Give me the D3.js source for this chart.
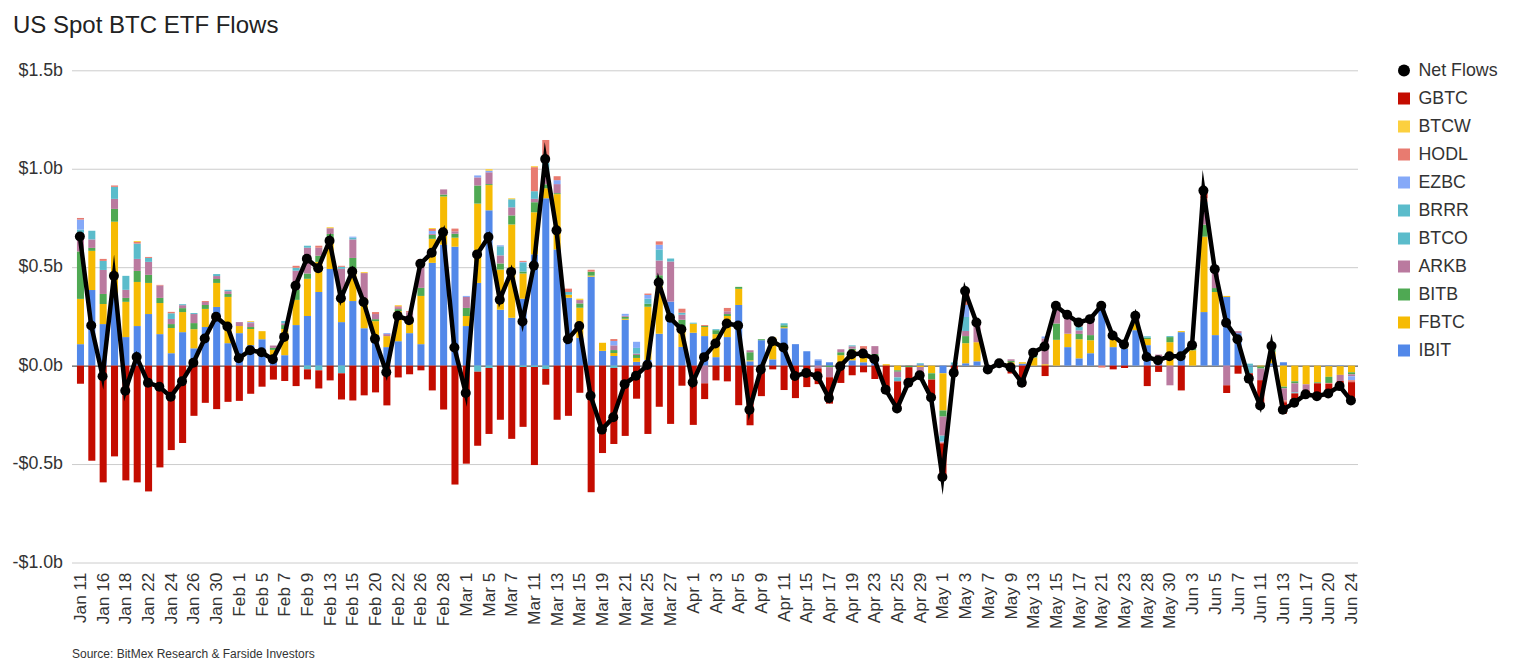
<!DOCTYPE html>
<html>
<head>
<meta charset="utf-8">
<title>US Spot BTC ETF Flows</title>
<script src="https://cdn.jsdelivr.net/npm/d3@7"></script>
<style>
  html, body { margin: 0; padding: 0; background: #fff; }
  svg { display: block; font-family: "Liberation Sans", Arial, sans-serif; }
</style>
</head>
<body>
<svg id="chart" width="1518" height="667"></svg>
<script>
// trading days on the x axis, every second one gets a label
const days = [
  'Jan 11','Jan 12','Jan 16','Jan 17','Jan 18','Jan 19','Jan 22','Jan 23','Jan 24','Jan 25',
  'Jan 26','Jan 29','Jan 30','Jan 31','Feb 1','Feb 2','Feb 5','Feb 6','Feb 7','Feb 8',
  'Feb 9','Feb 12','Feb 13','Feb 14','Feb 15','Feb 16','Feb 20','Feb 21','Feb 22','Feb 23',
  'Feb 26','Feb 27','Feb 28','Feb 29','Mar 1','Mar 4','Mar 5','Mar 6','Mar 7','Mar 8',
  'Mar 11','Mar 12','Mar 13','Mar 14','Mar 15','Mar 18','Mar 19','Mar 20','Mar 21','Mar 22',
  'Mar 25','Mar 26','Mar 27','Mar 28','Apr 1','Apr 2','Apr 3','Apr 4','Apr 5','Apr 8',
  'Apr 9','Apr 10','Apr 11','Apr 12','Apr 15','Apr 16','Apr 17','Apr 18','Apr 19','Apr 22',
  'Apr 23','Apr 24','Apr 25','Apr 26','Apr 29','Apr 30','May 1','May 2','May 3','May 6',
  'May 7','May 8','May 9','May 10','May 13','May 14','May 15','May 16','May 17','May 20',
  'May 21','May 22','May 23','May 24','May 28','May 29','May 30','May 31','Jun 3','Jun 4',
  'Jun 5','Jun 6','Jun 7','Jun 10','Jun 11','Jun 12','Jun 13','Jun 14','Jun 17','Jun 18',
  'Jun 20','Jun 21','Jun 24'
];

// flows in $m
const IBIT = [
  109,384,211,367,145,201,262,160,63,170,
  88,196,298,114,165,104,134,50,53,206,
  252,374,491,221,328,190,155,94,124,165,
  109,522,614,604,201,420,789,284,243,340,
  565,850,590,345,141,452,75,49,233,19,
  29,162,325,95,167,150,43,145,308,22,
  129,32,190,109,73,27,17,0,27,17,
  45,0,0,0,7,0,-39,6,12,22,
  0,0,0,10,0,0,0,94,37,63,
  314,94,88,180,104,19,0,170,0,272,
  155,349,165,-5,0,12,17,0,0,0,
  -3,-3,0
];
const FBTC = [
  230,199,102,364,179,224,158,158,128,102,
  97,92,122,235,36,82,41,30,133,128,
  189,153,158,138,163,151,71,56,153,71,
  245,122,245,46,51,403,128,204,474,128,
  214,51,281,15,153,5,41,15,5,20,
  270,241,0,87,46,46,117,107,82,5,
  0,111,5,0,0,0,0,53,51,25,
  0,7,-24,0,-7,-39,-189,0,102,97,
  0,12,17,7,41,7,131,68,97,66,
  0,39,31,43,31,14,119,5,78,383,
  219,5,0,0,-5,58,-107,-80,-95,-85,
  -54,-44,-34
];
const BITB = [
  241,15,51,65,20,56,41,26,20,20,
  31,20,20,15,0,10,0,10,20,51,
  27,31,20,26,56,0,10,0,10,5,
  41,20,10,20,41,92,5,31,46,10,
  51,20,5,0,22,20,0,15,10,15,
  15,56,0,51,0,5,20,10,10,41,
  5,0,10,0,0,0,-8,15,8,5,
  14,0,-7,-8,0,-32,-31,0,36,0,
  0,0,7,0,10,0,83,0,27,26,
  0,0,0,0,7,8,26,0,10,61,
  20,0,0,0,-10,17,-8,-10,0,-5,
  -31,0,-10
];
const ARKB = [
  94,43,122,51,41,61,66,63,26,15,
  46,15,15,14,20,20,0,12,9,97,
  131,41,29,107,94,129,26,10,10,30,
  140,5,26,12,56,41,60,41,41,0,
  17,60,46,0,17,0,0,24,5,7,
  0,75,204,26,0,-90,0,14,0,10,
  0,0,0,0,0,-14,-51,15,12,5,
  40,0,-29,2,-25,0,-97,0,26,95,
  2,0,8,0,15,131,68,82,18,77,
  0,39,0,30,0,15,-100,0,16,100,
  82,-100,10,0,-59,13,-61,-46,-31,0,
  0,-31,-10
];
const BTCO = [
  0,44,46,61,71,78,20,0,29,5,
  5,0,10,7,0,0,0,0,12,15,
  10,0,0,10,9,0,0,0,0,0,
  0,0,0,0,0,0,0,46,41,46,
  39,51,0,14,0,0,0,0,0,29,
  26,56,15,10,5,0,5,0,0,0,
  0,0,10,0,0,0,0,0,5,0,
  0,0,-20,0,5,0,-29,10,71,0,
  0,0,0,0,0,0,0,14,20,0,
  0,0,0,0,7,0,5,0,0,15,
  0,0,0,10,0,0,0,-5,0,0,
  0,0,0
];
const BRRR = [
  17,0,0,0,0,0,0,0,0,0,
  0,0,0,0,0,0,0,0,0,0,
  -19,-24,0,-39,0,0,0,0,0,0,
  0,0,0,0,0,-31,-12,0,0,-7,
  -7,-17,0,0,0,0,0,-12,0,0,
  0,0,0,0,0,0,0,0,0,0,
  0,0,0,0,0,0,0,0,0,0,
  0,0,0,0,0,0,0,0,0,0,
  0,0,0,0,0,0,0,0,0,0,
  0,0,0,0,0,0,0,0,0,0,
  0,0,0,-34,0,0,0,0,0,0,
  0,0,0
];
const EZBC = [
  51,0,0,0,0,0,0,0,0,0,
  0,0,0,0,0,5,0,0,0,0,
  0,0,0,0,5,0,0,5,0,0,
  0,15,0,0,5,10,8,5,0,3,
  0,0,20,0,0,0,0,22,10,31,
  19,24,0,0,0,0,0,0,0,0,
  0,0,0,0,0,5,0,0,0,30,
  0,0,0,0,0,0,-5,0,61,0,
  0,0,0,0,0,10,7,0,0,0,
  0,0,0,0,0,0,0,0,0,0,
  0,0,0,0,0,0,0,0,0,0,
  0,0,-20
];
const HODL = [
  8,0,10,7,0,8,5,3,7,0,
  0,5,0,0,0,0,0,0,0,10,
  0,10,0,5,0,0,10,0,5,6,
  5,10,0,14,0,0,0,0,0,5,
  122,114,20,17,0,10,0,10,0,0,
  7,17,0,20,0,5,0,17,0,0,
  0,0,0,0,0,0,0,0,0,17,
  0,0,0,0,0,0,-5,0,17,0,
  0,0,0,0,0,0,8,0,10,0,
  -10,0,0,0,0,0,0,0,0,20,
  0,0,0,0,0,0,-10,0,0,0,
  -5,0,-10
];
const BTCW = [
  0,0,0,0,0,5,0,0,0,0,
  0,0,0,0,0,5,0,0,0,0,
  0,0,5,0,0,5,0,0,5,0,
  0,5,0,0,0,0,8,0,5,0,
  5,0,0,0,7,0,0,0,0,0,
  0,0,0,0,0,0,0,0,0,0,
  0,0,0,0,0,0,0,0,0,0,
  0,0,0,0,0,0,0,0,0,0,
  0,0,0,0,0,0,0,0,0,0,
  0,0,0,0,0,0,0,0,0,0,
  0,0,0,0,0,0,0,0,0,0,
  0,0,0
];
const GBTC = [
  -92,-483,-593,-461,-583,-593,-639,-517,-429,-393,
  -255,-189,-221,-184,-179,-143,-107,-71,-78,-104,
  -51,-92,-75,-133,-177,-151,-136,-202,-60,-44,
  -24,-126,-223,-604,-498,-376,-335,-275,-372,-304,
  -498,-80,-275,-255,-138,-643,-444,-386,-357,-168,
  -347,-209,-296,-102,-301,-80,-75,-80,-201,-303,
  -155,-19,-124,-165,-109,-80,-134,-88,-49,-34,
  -68,-130,-138,-82,-30,-91,-171,-51,51,0,
  -22,0,-40,-104,0,-53,7,0,10,0,
  0,-19,-12,0,-104,-32,0,-126,0,38,
  10,-39,-41,-40,-120,0,-58,-48,-20,-65,
  -51,-26,-90
];
const netFlows = [
  656,204,-54,456,-128,44,-87,-107,-158,-80,
  15,138,248,199,37,78,68,32,146,406,
  543,495,634,342,478,323,136,-34,253,231,
  517,573,677,92,-139,565,653,335,476,224,
  508,1049,687,134,201,-153,-325,-262,-94,-51,
  3,422,243,185,-85,43,112,214,204,-224,
  -20,124,92,-53,-37,-54,-165,-3,58,61,
  34,-122,-218,-87,-49,-162,-566,-36,379,219,
  -20,12,-8,-87,66,97,304,258,219,236,
  304,153,107,253,44,27,48,48,104,889,
  490,218,134,-66,-202,100,-224,-189,-146,-155,
  -141,-104,-177
];

const yTicks = [-1000, -500, 0, 500, 1000, 1500];
const yTickLabels = ['-$1.0b', '-$0.5b', '$0.0b', '$0.5b', '$1.0b', '$1.5b'];

// stacking order, bottom of the stack first
const seriesNames = ['IBIT','FBTC','BITB','ARKB','BTCO','BRRR','EZBC','HODL','BTCW','GBTC'];
const seriesValues = [IBIT, FBTC, BITB, ARKB, BTCO, BRRR, EZBC, HODL, BTCW, GBTC];
const seriesColors = ['#5288e9','#f6bb03','#4fa953','#ba7a9f','#5bbccb','#5bbccb','#85a9f8','#e87b70','#fcd03f','#c40c00'];

const legendNames = ['GBTC','BTCW','HODL','EZBC','BRRR','BTCO','ARKB','BITB','FBTC','IBIT'];

const svg = d3.select('#chart');
const textColor = '#333';

const x = d3.scaleBand().domain(days).range([74.8, 1357.2]).paddingInner(0.38).paddingOuter(0.19);
const y = d3.scaleLinear().domain([-1000, 1500]).range([562.5, 70.3]);
// the line sits a touch left of the bar centres in the original
const center = d => x(d) + x.bandwidth() / 2 - 0.6;

svg.append('text')
  .attr('x', 13).attr('y', 32.5)
  .attr('font-size', 24).attr('fill', '#222')
  .text('US Spot BTC ETF Flows');

// gridlines and y labels
const yAxis = svg.append('g')
  .attr('transform', 'translate(72,0)')
  .call(d3.axisLeft(y)
    .tickValues(yTicks)
    .tickSize(-1286)
    .tickPadding(9)
    .tickFormat((d, i) => yTickLabels[i]));
yAxis.select('.domain').remove();
yAxis.selectAll('line').attr('stroke', '#ccc');
yAxis.selectAll('line').filter(d => d === 0).attr('stroke', '#333');
yAxis.selectAll('text')
  .attr('y', -1)
  .attr('font-size', 17.8).attr('fill', textColor);

// x labels
const xAxis = svg.append('g')
  .attr('transform', 'translate(0,562.5)')
  .call(d3.axisBottom(x)
    .tickValues(days.filter((d, i) => i % 2 === 0))
    .tickSize(0));
xAxis.select('.domain').remove();
xAxis.selectAll('text')
  .attr('font-size', 17.2)
  .attr('fill', textColor)
  .attr('text-anchor', 'end')
  .attr('transform', 'rotate(-90)')
  .attr('x', -10.2)
  .attr('y', 0)
  .attr('dy', '0.32em');

// stacked bars, positives go up and negatives go down from zero
const rows = days.map((d, i) => {
  const row = { day: d };
  seriesNames.forEach((name, s) => { row[name] = seriesValues[s][i]; });
  return row;
});
const stacked = d3.stack()
  .keys(seriesNames)
  .offset(d3.stackOffsetDiverging)(rows);

svg.append('g').selectAll('g')
  .data(stacked)
  .join('g')
  .attr('fill', (d, i) => seriesColors[i])
  .selectAll('rect')
  .data(d => d.filter(p => p[0] !== p[1]))
  .join('rect')
  .attr('x', p => x(p.data.day))
  .attr('width', x.bandwidth())
  .attr('y', p => y(Math.max(p[0], p[1])))
  .attr('height', p => Math.abs(y(p[0]) - y(p[1])));

// net flow line, default miter joins give the spikes at sharp turns
const line = d3.line()
  .x((d, i) => center(days[i]))
  .y(d => y(d));

svg.append('path')
  .datum(netFlows)
  .attr('fill', 'none')
  .attr('stroke', '#000')
  .attr('stroke-width', 4.5)
  .attr('stroke-miterlimit', 10)
  .attr('d', line);

svg.append('g').selectAll('circle')
  .data(netFlows)
  .join('circle')
  .attr('cx', (d, i) => center(days[i]))
  .attr('cy', d => y(d))
  .attr('r', 5)
  .attr('fill', '#000');

// legend
const legend = svg.append('g');
legend.append('circle')
  .attr('cx', 1404).attr('cy', 70.5).attr('r', 6).attr('fill', '#000');
legend.append('text')
  .attr('x', 1418.5).attr('y', 76.3)
  .attr('font-size', 17.8).attr('fill', textColor)
  .text('Net Flows');

const legendRows = legend.selectAll('g.row')
  .data(legendNames)
  .join('g')
  .attr('class', 'row')
  .attr('transform', (d, i) => `translate(0,${98.5 + i * 28})`);
legendRows.append('rect')
  .attr('x', 1398).attr('y', -6)
  .attr('width', 12).attr('height', 12)
  .attr('fill', d => seriesColors[seriesNames.indexOf(d)]);
legendRows.append('text')
  .attr('x', 1418.5).attr('y', 5.8)
  .attr('font-size', 17.8).attr('fill', textColor)
  .text(d => d);

svg.append('text')
  .attr('x', 72).attr('y', 657.5)
  .attr('font-size', 12).attr('fill', textColor)
  .text('Source: BitMex Research & Farside Investors');
</script>
</body>
</html>
